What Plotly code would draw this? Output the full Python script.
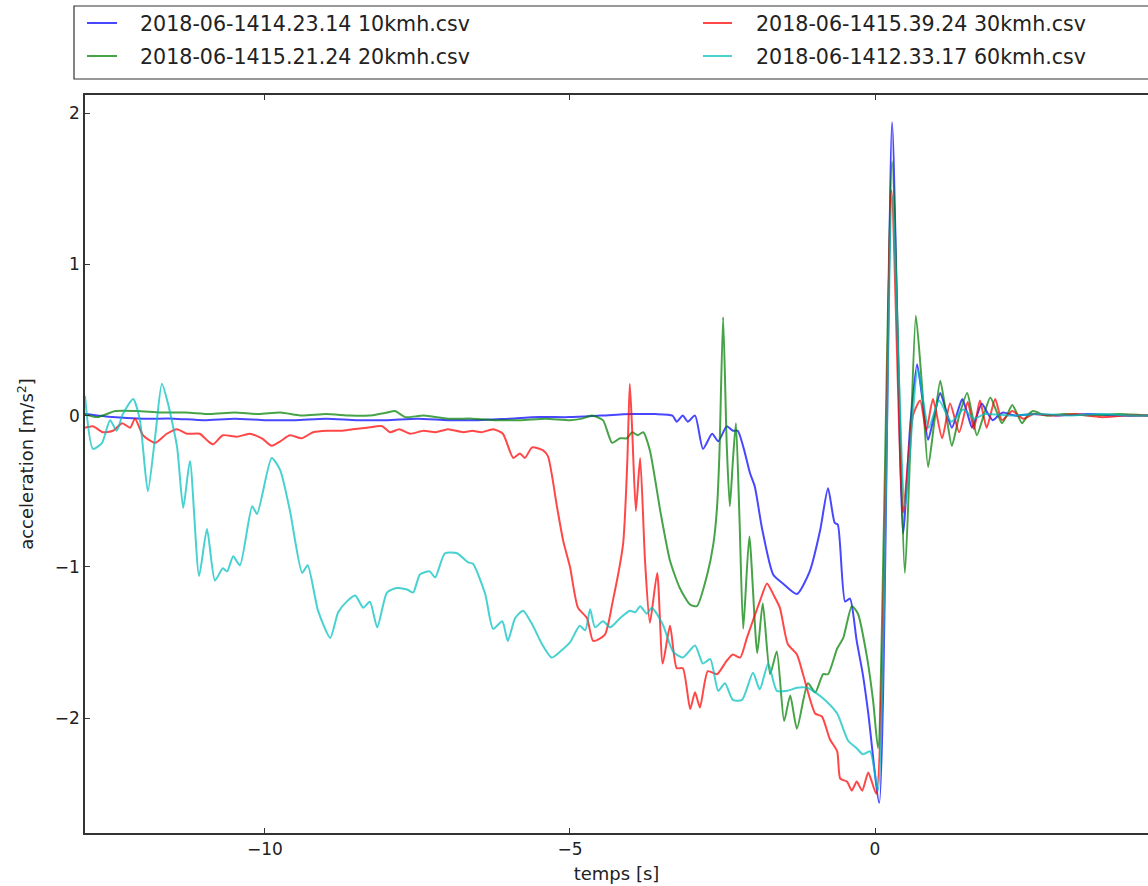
import plotly.graph_objects as go

# ---------------- data (time [s], acceleration [m/s^2]) ----------------
names = [
    "2018-06-1414.23.14 10kmh.csv",
    "2018-06-1415.21.24 20kmh.csv",
    "2018-06-1415.39.24 30kmh.csv",
    "2018-06-1412.33.17 60kmh.csv",
]
colors = ["rgba(0,0,255,0.72)", "rgba(0,128,0,0.72)", "rgba(255,0,0,0.72)", "rgba(0,191,191,0.72)"]

x_ticks = [-10, -5, 0]
y_ticks = [-2, -1, 0, 1, 2]

kmh10 = [
    (-12.95, 0.01), (-12.5, -0.01), (-12.0, -0.02), (-11.5, -0.02), (-11.0, -0.03), (-10.5, -0.02),
    (-10.0, -0.03), (-9.5, -0.03), (-9.0, -0.02), (-8.5, -0.03), (-8.0, -0.03), (-7.5, -0.02),
    (-7.0, -0.03), (-6.5, -0.03), (-6.0, -0.02), (-5.5, -0.01), (-5.0, -0.01), (-4.5, 0.00),
    (-4.0, 0.01), (-3.6, 0.01), (-3.32, 0.00), (-3.25, -0.04), (-3.15, 0.00), (-3.07, -0.04),
    (-2.95, 0.00), (-2.82, -0.22), (-2.67, -0.12), (-2.57, -0.17), (-2.43, -0.07), (-2.33, -0.10),
    (-2.25, -0.10), (-2.15, -0.22), (-2.05, -0.38), (-1.97, -0.47), (-1.85, -0.75), (-1.67, -1.05),
    (-1.51, -1.11), (-1.28, -1.18), (-1.07, -1.03), (-0.90, -0.76), (-0.77, -0.48), (-0.66, -0.71),
    (-0.61, -0.72), (-0.49, -1.23), (-0.41, -1.21), (-0.30, -1.49), (-0.20, -1.71), (-0.11, -1.97),
    (0.07, -2.56), (0.28, 1.94), (0.46, -0.78), (0.58, -0.05), (0.69, 0.34), (0.78, 0.10),
    (0.87, -0.16), (0.97, 0.00), (1.07, 0.15), (1.16, 0.04), (1.26, -0.08), (1.35, 0.02),
    (1.43, 0.11), (1.51, 0.02), (1.59, -0.08), (1.67, 0.00), (1.75, 0.08), (1.84, 0.02),
    (1.93, -0.03), (2.02, 0.00), (2.10, 0.02), (2.3, 0.00), (2.6, 0.01), (3.0, 0.00),
    (3.5, 0.01), (4.0, 0.00), (4.48, 0.00),
]

kmh20 = [
    (-12.95, 0.01), (-12.75, -0.01), (-12.45, 0.03), (-12.1, 0.03), (-11.7, 0.02), (-11.3, 0.02),
    (-10.9, 0.01), (-10.5, 0.02), (-10.1, 0.01), (-9.75, 0.02), (-9.4, 0.00), (-9.0, 0.01),
    (-8.6, 0.00), (-8.3, 0.00), (-8.0, 0.02), (-7.87, 0.03), (-7.7, -0.01), (-7.4, 0.00),
    (-7.0, -0.02), (-6.6, -0.02), (-6.2, -0.03), (-5.8, -0.03), (-5.4, -0.02), (-5.0, -0.03),
    (-4.8, -0.02), (-4.64, 0.00), (-4.46, -0.03), (-4.31, -0.18), (-4.18, -0.15), (-4.07, -0.15),
    (-3.98, -0.11), (-3.89, -0.13), (-3.80, -0.11), (-3.69, -0.23), (-3.52, -0.63), (-3.36, -0.96),
    (-3.20, -1.14), (-3.03, -1.25), (-2.92, -1.26), (-2.75, -1.05), (-2.65, -0.85), (-2.59, -0.61),
    (-2.55, -0.25), (-2.49, 0.65), (-2.43, -0.20), (-2.38, -0.60), (-2.33, -0.30), (-2.28, -0.05),
    (-2.22, -0.70), (-2.16, -1.41), (-2.06, -0.80), (-1.93, -1.57), (-1.84, -1.24), (-1.72, -1.71),
    (-1.61, -1.56), (-1.49, -2.02), (-1.39, -1.85), (-1.28, -2.07), (-1.10, -1.77), (-0.98, -1.83),
    (-0.85, -1.71), (-0.77, -1.71), (-0.62, -1.54), (-0.52, -1.47), (-0.38, -1.26), (-0.28, -1.31),
    (-0.13, -1.60), (-0.03, -1.89), (0.05, -2.20), (0.28, 1.68), (0.49, -1.04), (0.58, -0.20),
    (0.67, 0.66), (0.77, 0.20), (0.87, -0.34), (0.97, -0.05), (1.07, 0.23), (1.17, 0.00),
    (1.26, -0.20), (1.38, 0.00), (1.51, 0.15), (1.59, 0.01), (1.67, -0.13), (1.78, 0.00),
    (1.89, 0.12), (1.99, 0.03), (2.08, -0.05), (2.17, 0.01), (2.25, 0.07), (2.33, 0.01),
    (2.41, -0.05), (2.50, 0.00), (2.59, 0.03), (2.8, 0.00), (3.1, 0.01), (3.5, 0.00),
    (4.0, 0.01), (4.48, 0.00),
]

kmh30 = [
    (-12.95, -0.08), (-12.82, -0.07), (-12.66, -0.11), (-12.49, -0.10), (-12.34, -0.05), (-12.21, -0.08),
    (-12.13, -0.02), (-12.0, -0.13), (-11.8, -0.18), (-11.61, -0.12), (-11.44, -0.09), (-11.28, -0.12),
    (-11.07, -0.12), (-10.93, -0.17), (-10.85, -0.19), (-10.69, -0.13), (-10.46, -0.14), (-10.25, -0.12),
    (-10.05, -0.15), (-9.89, -0.20), (-9.75, -0.17), (-9.59, -0.13), (-9.4, -0.15), (-9.21, -0.11),
    (-8.98, -0.10), (-8.75, -0.10), (-8.56, -0.09), (-8.33, -0.08), (-8.08, -0.07), (-7.95, -0.11),
    (-7.8, -0.09), (-7.62, -0.12), (-7.4, -0.10), (-7.2, -0.11), (-7.0, -0.09), (-6.75, -0.11),
    (-6.6, -0.10), (-6.45, -0.11), (-6.26, -0.09), (-6.10, -0.12), (-5.93, -0.28), (-5.82, -0.25),
    (-5.74, -0.28), (-5.62, -0.21), (-5.44, -0.23), (-5.36, -0.27), (-5.21, -0.61), (-5.11, -0.83),
    (-5.00, -1.00), (-4.87, -1.27), (-4.72, -1.34), (-4.62, -1.49), (-4.43, -1.45), (-4.30, -1.23),
    (-4.13, -0.85), (-4.06, -0.30), (-4.02, 0.21), (-3.98, -0.10), (-3.92, -0.63), (-3.85, -0.28),
    (-3.77, -0.96), (-3.69, -1.37), (-3.57, -1.04), (-3.48, -1.64), (-3.36, -1.39), (-3.25, -1.67),
    (-3.15, -1.67), (-3.03, -1.94), (-2.95, -1.83), (-2.87, -1.93), (-2.74, -1.69), (-2.59, -1.71),
    (-2.43, -1.62), (-2.33, -1.58), (-2.21, -1.60), (-2.10, -1.47), (-1.89, -1.23), (-1.77, -1.11),
    (-1.67, -1.18), (-1.56, -1.27), (-1.43, -1.51), (-1.28, -1.58), (-1.18, -1.71), (-0.98, -1.97),
    (-0.87, -1.99), (-0.74, -2.14), (-0.62, -2.22), (-0.57, -2.40), (-0.46, -2.42), (-0.38, -2.48),
    (-0.30, -2.42), (-0.21, -2.48), (-0.11, -2.36), (0.02, -2.50), (0.27, 1.49), (0.46, -0.64),
    (0.62, 0.00), (0.74, 0.10), (0.84, -0.10), (0.95, 0.11), (1.10, -0.15), (1.23, 0.08),
    (1.38, -0.11), (1.52, 0.09), (1.62, -0.09), (1.72, 0.10), (1.83, -0.08), (1.97, 0.11),
    (2.08, -0.03), (2.25, 0.03), (2.43, -0.02), (2.6, 0.01), (2.9, 0.00), (3.3, 0.01),
    (3.7, -0.01), (4.1, 0.00), (4.48, 0.00),
]

kmh60 = [
    (-12.95, 0.13), (-12.82, -0.22), (-12.67, -0.18), (-12.54, -0.03), (-12.43, -0.10), (-12.33, 0.01),
    (-12.16, 0.11), (-12.05, -0.03), (-11.92, -0.50), (-11.80, -0.14), (-11.69, 0.21), (-11.59, 0.08),
    (-11.44, -0.21), (-11.34, -0.61), (-11.23, -0.30), (-11.08, -1.06), (-10.95, -0.75), (-10.82, -1.09),
    (-10.69, -1.01), (-10.62, -1.03), (-10.52, -0.93), (-10.41, -0.99), (-10.21, -0.60), (-10.13, -0.65),
    (-9.89, -0.28), (-9.75, -0.36), (-9.59, -0.63), (-9.39, -1.04), (-9.30, -0.99), (-9.13, -1.29),
    (-8.93, -1.47), (-8.80, -1.30), (-8.66, -1.23), (-8.52, -1.19), (-8.39, -1.27), (-8.28, -1.23),
    (-8.16, -1.40), (-8.0, -1.17), (-7.84, -1.14), (-7.67, -1.15), (-7.57, -1.17), (-7.46, -1.05),
    (-7.30, -1.03), (-7.21, -1.07), (-7.05, -0.91), (-6.85, -0.91), (-6.67, -0.97), (-6.59, -0.98),
    (-6.39, -1.18), (-6.26, -1.41), (-6.11, -1.36), (-6.02, -1.49), (-5.90, -1.34), (-5.77, -1.29),
    (-5.62, -1.38), (-5.46, -1.51), (-5.30, -1.60), (-5.16, -1.56), (-5.00, -1.50), (-4.84, -1.39),
    (-4.75, -1.42), (-4.67, -1.28), (-4.59, -1.40), (-4.46, -1.36), (-4.34, -1.40), (-4.18, -1.34),
    (-4.02, -1.29), (-3.93, -1.30), (-3.85, -1.26), (-3.74, -1.31), (-3.66, -1.27), (-3.48, -1.38),
    (-3.31, -1.56), (-3.15, -1.60), (-2.95, -1.52), (-2.82, -1.64), (-2.70, -1.61), (-2.57, -1.82),
    (-2.46, -1.77), (-2.33, -1.88), (-2.18, -1.88), (-2.00, -1.70), (-1.89, -1.81), (-1.75, -1.64),
    (-1.61, -1.82), (-1.44, -1.82), (-1.28, -1.80), (-1.11, -1.80), (-0.98, -1.83), (-0.82, -1.88),
    (-0.62, -1.97), (-0.44, -2.15), (-0.30, -2.20), (-0.20, -2.24), (-0.08, -2.22), (0.05, -2.48),
    (0.28, 1.45), (0.49, -0.60), (0.70, 0.30), (0.88, -0.08), (1.05, 0.10), (1.25, -0.04),
    (1.45, 0.04), (1.62, -0.02), (1.8, 0.01), (2.2, 0.00), (2.7, 0.01), (3.2, 0.00),
    (3.7, 0.01), (4.2, 0.00), (4.48, 0.00),
]

series = [kmh10, kmh20, kmh30, kmh60]

# ---------------- figure ----------------
W, H = 1148, 886
L, R, T, B = 85, 0, 95, 53
FONT = "DejaVu Sans"
AXC = "#333333"

fig = go.Figure()
for s, name, col in zip(series, names, colors):
    fig.add_trace(go.Scatter(
        x=[p[0] for p in s], y=[p[1] for p in s], mode="lines", name=name,
        line=dict(color=col, width=2, shape="spline", smoothing=0.6),
        showlegend=False,
    ))

fig.update_layout(
    width=W, height=H,
    margin=dict(l=L, r=R, t=T, b=B, autoexpand=False),
    paper_bgcolor="white", plot_bgcolor="white",
    font=dict(family=FONT, size=17, color="#222222"),
    xaxis=dict(
        range=[-12.95, 4.475], tickmode="array", tickvals=x_ticks,
        ticks="inside", ticklen=5, tickcolor=AXC, tickwidth=1,
        showline=True, linecolor=AXC, linewidth=1.5, mirror="ticks",
        showgrid=False, zeroline=False,
        title=dict(text="temps [s]", font=dict(size=18), standoff=9),
        tickfont=dict(size=17),
    ),
    yaxis=dict(
        range=[-2.76, 2.12], tickmode="array", tickvals=y_ticks,
        ticks="inside", ticklen=5, tickcolor=AXC, tickwidth=1,
        showline=True, linecolor=AXC, linewidth=1.5, mirror=False,
        showgrid=False, zeroline=False,
        title=dict(text="acceleration [m/s<sup>2</sup>]", font=dict(size=18), standoff=16),
        tickfont=dict(size=17),
    ),
)

# ---------------- manual legend (box above the axes, partly cut off at the right) ----------------
pw, ph = W - L - R, H - T - B
def px(xp):
    return (xp - L) / pw
def py(yp):
    return (H - B - yp) / ph

fig.add_shape(type="rect", xref="paper", yref="paper",
              x0=px(74), x1=px(1170), y0=py(79), y1=py(6),
              line=dict(color=AXC, width=1.2), fillcolor="white", layer="above")

slots = [(0, 0), (0, 1), (1, 0), (1, 1)]  # (column, row) for blue, green, red, cyan
col_line_x = [(87, 117), (703, 732)]
col_text_x = [138, 754]
row_y = [23, 56]
for (c, r), name, col in zip(slots, names, colors):
    fig.add_shape(type="line", xref="paper", yref="paper",
                  x0=px(col_line_x[c][0]), x1=px(col_line_x[c][1]),
                  y0=py(row_y[r]), y1=py(row_y[r]),
                  line=dict(color=col, width=2))
    fig.add_annotation(xref="paper", yref="paper", x=px(col_text_x[c]), y=py(row_y[r] + 1),
                       text=name, showarrow=False, xanchor="left", yanchor="middle",
                       font=dict(family=FONT, size=20.6, color="#222222"))

fig.write_html("out.html")
